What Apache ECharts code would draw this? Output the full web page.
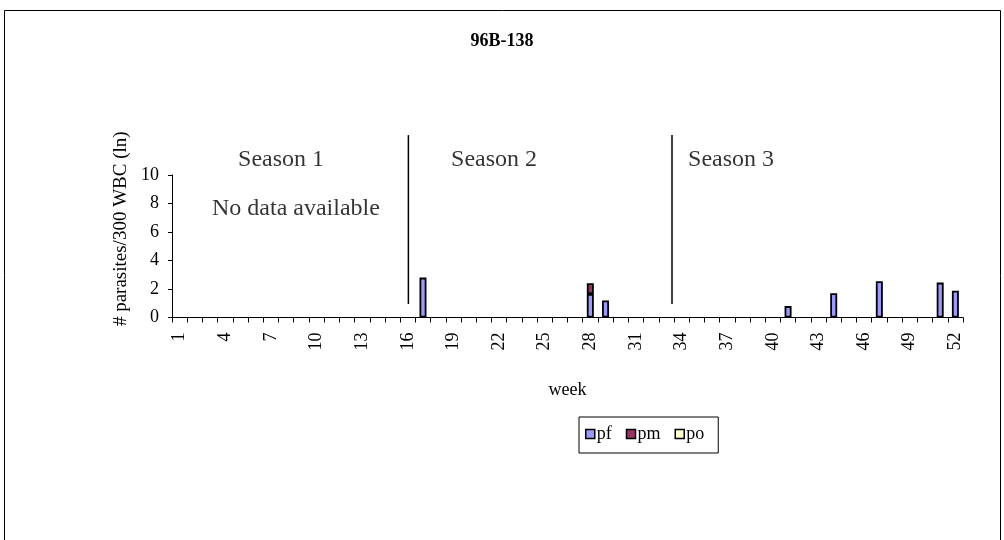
<!DOCTYPE html>
<html>
<head>
<meta charset="utf-8">
<script src="https://cdn.jsdelivr.net/npm/echarts@6/dist/echarts.min.js"></script>
<style>html,body{margin:0;padding:0;background:#fff;}#c{width:1004px;height:540px;}</style>
</head>
<body>
<div id="c"></div>
<script>
var weeks = [];
for (var i = 1; i <= 52; i++) weeks.push(String(i));
// values per week (null = no bar)
var pfWeeks = [17, 28, 29, 41, 44, 47, 51, 52];
var pfVals  = [2.8, 1.65, 1.2, 0.8, 1.7, 2.55, 2.45, 1.88];
var pmWeeks = [28];
var pmVals  = [0.75];
var poWeeks = [];
var poVals  = [];
var seasonBreaks = [16.04, 33.37];
var seasonLineRange = [0.95, 12.8];
var seasonLabels = [
  {name: 'Season 1', x: 7.67, y: 11.05},
  {name: 'Season 2', x: 21.67, y: 11.05},
  {name: 'Season 3', x: 37.25, y: 11.05},
  {name: 'No data available', x: 8.65, y: 7.65}
];

function fill(ws, vs) {
  var arr = weeks.map(function () { return null; });
  ws.forEach(function (w, k) { arr[w - 1] = vs[k]; });
  return arr;
}

var font = 'Liberation Serif';
var chart = echarts.init(document.getElementById('c'), null, {renderer: 'canvas'});
var barStyle = function (c) { return {color: c, borderColor: '#000', borderWidth: 1.8}; };

var series = [
  {name: 'pf', type: 'bar', stack: 's', data: fill(pfWeeks, pfVals), barWidth: 7, itemStyle: barStyle('#9999FF')},
  {name: 'pm', type: 'bar', stack: 's', data: fill(pmWeeks, pmVals), barWidth: 7, itemStyle: barStyle('#993366')},
  {name: 'po', type: 'bar', stack: 's', data: fill(poWeeks, poVals), barWidth: 7, itemStyle: barStyle('#FFFFCC')}
];
seasonBreaks.forEach(function (b) {
  series.push({
    type: 'line', xAxisIndex: 1, data: [[b, seasonLineRange[0]], [b, seasonLineRange[1]]],
    symbol: 'none', clip: false, silent: true,
    lineStyle: {color: '#000', width: 1.5}, tooltip: {show: false}
  });
});
series.push({
  type: 'scatter', xAxisIndex: 1, clip: false, symbolSize: 0, silent: true,
  data: seasonLabels.map(function (s) { return {name: s.name, value: [s.x, s.y]}; }),
  label: {show: true, position: 'inside', formatter: '{b}', fontFamily: font, fontSize: 24, color: '#000'}
});

chart.setOption({
  animation: false,
  backgroundColor: '#fff',
  title: {text: '96B-138', left: 'center', top: 27, textStyle: {fontFamily: font, fontSize: 18, fontWeight: 'bold', color: '#000'}},
  graphic: [{type: 'rect', shape: {x: 4.5, y: 10.5, width: 996, height: 560}, style: {fill: 'none', stroke: '#000', lineWidth: 1}, silent: true}],
  legend: {
    data: ['pf', 'pm', 'po'], left: 579, top: 417, icon: 'rect', itemWidth: 9, itemHeight: 9, itemGap: 14,
    borderColor: '#000', borderWidth: 1, padding: [8, 14, 10, 6],
    textStyle: {fontFamily: font, fontSize: 18, color: '#000', padding: [8, 0, 0, -3]},
    itemStyle: {borderColor: '#000', borderWidth: 1.5}
  },
  grid: {left: 172, right: 41, top: 175, bottom: 222.5, containLabel: false},
  xAxis: [{
    type: 'category', data: weeks, boundaryGap: true,
    name: 'week', nameLocation: 'middle', nameGap: 64,
    nameTextStyle: {fontFamily: font, fontSize: 18, color: '#000'},
    axisLine: {lineStyle: {color: '#000', width: 1}},
    axisTick: {show: true, interval: 0, length: 5, lineStyle: {color: '#000'}},
    axisLabel: {interval: 2, rotate: 90, fontFamily: font, fontSize: 18, color: '#000', margin: 15},
    splitLine: {show: false}
  }, {
    type: 'value', min: 0.5, max: 52.5, show: false
  }],
  yAxis: {
    type: 'value', min: 0, max: 10, interval: 2,
    name: '# parasites/300 WBC (ln)', nameLocation: 'middle', nameGap: 35, nameRotate: 90,
    nameTextStyle: {fontFamily: font, fontSize: 19, color: '#000', padding: [0, 0, 0, 35]},
    axisLine: {show: true, lineStyle: {color: '#000', width: 1}},
    axisTick: {show: true, length: 4, lineStyle: {color: '#000'}},
    axisLabel: {fontFamily: font, fontSize: 18, color: '#000', margin: 13},
    splitLine: {show: false}
  },
  series: series
});
</script>
</body>
</html>
